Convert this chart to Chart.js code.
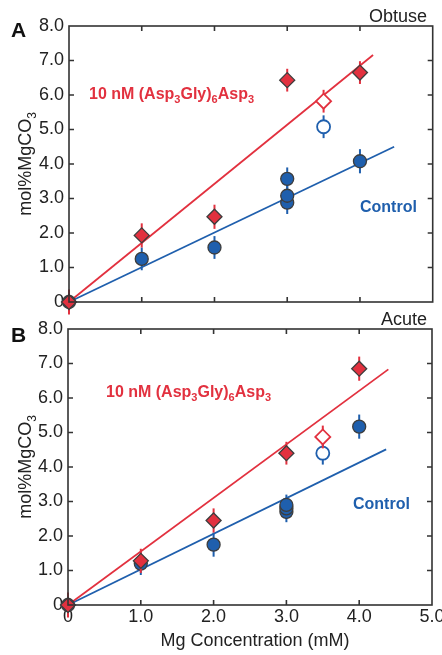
<!DOCTYPE html>
<html>
<head>
<meta charset="utf-8">
<script src="https://cdn.jsdelivr.net/npm/chart.js@4.4.0/dist/chart.umd.min.js"></script>
<style>
  html, body { margin: 0; padding: 0; background: #fff; }
  #wrap { position: relative; width: 442px; height: 655px; }
  canvas { position: absolute; left: 0; }
  #chartA { top: 0; }
  #chartB { top: 310px; }
</style>
</head>
<body>
<div id="wrap">
  <canvas id="chartA" width="442" height="320"></canvas>
  <canvas id="chartB" width="442" height="345"></canvas>
</div>
<script>
// --- datos ---
const xTicks = [0, 1, 2, 3, 4, 5];
const yTicks = [0, 1, 2, 3, 4, 5, 6, 7, 8];

// panel A (obtuse)
const aPepX = [0, 1, 2, 3, 4];
const aPepY = [0, 1.93, 2.47, 6.43, 6.65];
const aPepErr = [0.36, 0.35, 0.35, 0.33, 0.33];
const aPepOpenX = [3.5];
const aPepOpenY = [5.82];
const aPepOpenErr = [0.33];
const aCtlX = [0, 1, 2, 3, 3, 3, 4];
const aCtlY = [0, 1.25, 1.58, 2.88, 3.08, 3.57, 4.08];
const aCtlErr = [0.3, 0.33, 0.33, 0.33, 0.33, 0.33, 0.35];
const aCtlOpenX = [3.5];
const aCtlOpenY = [5.08];
const aCtlOpenErr = [0.33];
const aPepFitX = [0, 4.18];
const aPepFitY = [0, 7.16];
const aCtlFitX = [0, 4.47];
const aCtlFitY = [0, 4.5];

// panel B (acute)
const bPepX = [0, 1, 2, 3, 4];
const bPepY = [0, 1.28, 2.45, 4.4, 6.85];
const bPepErr = [0.36, 0.35, 0.35, 0.33, 0.35];
const bPepOpenX = [3.5];
const bPepOpenY = [4.87];
const bPepOpenErr = [0.33];
const bCtlX = [0, 1, 2, 3, 3, 3, 4];
const bCtlY = [0, 1.2, 1.75, 2.7, 2.8, 2.9, 5.17];
const bCtlErr = [0.3, 0.33, 0.35, 0.3, 0.3, 0.3, 0.35];
const bCtlOpenX = [3.5];
const bCtlOpenY = [4.4];
const bCtlOpenErr = [0.33];
const bPepFitX = [0, 4.4];
const bPepFitY = [0, 6.83];
const bCtlFitX = [0, 4.37];
const bCtlFitY = [0, 4.51];

const RED = "#e2313f";
const BLUE = "#1f5fad";
const EDGE = "#3d3d3d";
const AXIS = "#333333";
const FONT = '"Liberation Sans", Arial, Helvetica, sans-serif';

const pepLabel = [["10 nM (Asp"], ["3", true], ["Gly)"], ["6", true], ["Asp"], ["3", true]];
const yTitle = [["mol%MgCO"], ["3", true]];

Chart.defaults.font.family = FONT;
Chart.defaults.color = "#222";

const pts = (xs, ys) => xs.map((x, i) => ({ x, y: ys[i] }));

function richWidth(ctx, parts, size, bold) {
  let w = 0;
  parts.forEach(([t, sub]) => {
    ctx.font = (bold ? "bold " : "") + (sub ? Math.round(size * 0.68) : size) + "px " + FONT;
    w += ctx.measureText(t).width;
  });
  return w;
}

function richText(ctx, parts, x, y, size, bold, color) {
  ctx.save();
  ctx.fillStyle = color;
  ctx.textAlign = "left";
  ctx.textBaseline = "alphabetic";
  let cx = x;
  parts.forEach(([t, sub]) => {
    ctx.font = (bold ? "bold " : "") + (sub ? Math.round(size * 0.68) : size) + "px " + FONT;
    ctx.fillText(t, cx, sub ? y + size * 0.28 : y);
    cx += ctx.measureText(t).width;
  });
  ctx.restore();
}

// barras de error, justo antes de cada dataset
const errorBars = {
  id: "errorBars",
  beforeDatasetDraw(chart, args) {
    const ds = chart.data.datasets[args.index];
    if (!ds.errors) return;
    const { ctx, scales } = chart;
    ctx.save();
    ctx.strokeStyle = ds.errColor;
    ctx.lineWidth = 2;
    ds.data.forEach((p, i) => {
      const px = scales.x.getPixelForValue(p.x);
      ctx.beginPath();
      ctx.moveTo(px, scales.y.getPixelForValue(p.y - ds.errors[i]));
      ctx.lineTo(px, scales.y.getPixelForValue(p.y + ds.errors[i]));
      ctx.stroke();
    });
    ctx.restore();
  },
};

// marco, ticks hacia dentro y textos
const frame = {
  id: "frame",
  afterDraw(chart, args, o) {
    const { ctx, chartArea: a, scales } = chart;
    ctx.save();
    ctx.strokeStyle = AXIS;
    ctx.lineWidth = 1.6;
    ctx.strokeRect(a.left, a.top, a.right - a.left, a.bottom - a.top);
    const tl = 5;
    ctx.beginPath();
    xTicks.slice(1, -1).forEach((v) => {
      const px = scales.x.getPixelForValue(v);
      ctx.moveTo(px, a.bottom); ctx.lineTo(px, a.bottom - tl);
      ctx.moveTo(px, a.top); ctx.lineTo(px, a.top + tl);
    });
    yTicks.slice(1, -1).forEach((v) => {
      const py = scales.y.getPixelForValue(v);
      ctx.moveTo(a.left, py); ctx.lineTo(a.left + tl, py);
      ctx.moveTo(a.right, py); ctx.lineTo(a.right - tl, py);
    });
    ctx.stroke();

    // letra del panel y titulo
    ctx.fillStyle = "#111";
    ctx.font = "bold 21px " + FONT;
    ctx.textAlign = "left";
    ctx.fillText(o.letter, 11, o.letterY);
    ctx.font = "18px " + FONT;
    ctx.textAlign = "right";
    ctx.fillStyle = "#222";
    ctx.fillText(o.title, 427, o.titleY);

    // titulo eje y (rotado)
    const w = richWidth(ctx, yTitle, 18, false);
    ctx.save();
    ctx.translate(31, (a.top + a.bottom) / 2);
    ctx.rotate(-Math.PI / 2);
    richText(ctx, yTitle, -w / 2, 0, 18, false, "#222");
    ctx.restore();

    richText(ctx, pepLabel, o.pepX, o.pepY, 16, true, RED);
    ctx.font = "bold 16px " + FONT;
    ctx.textAlign = "left";
    ctx.fillStyle = BLUE;
    ctx.fillText("Control", o.ctlX, o.ctlY);

    if (o.xTitle) {
      ctx.font = "18px " + FONT;
      ctx.textAlign = "center";
      ctx.fillStyle = "#222";
      ctx.fillText("Mg Concentration (mM)", 255, o.xTitleY);
    }
    ctx.restore();
  },
};

function makeChart(id, d, o) {
  const ctx = document.getElementById(id).getContext("2d");
  return new Chart(ctx, {
    type: "scatter",
    data: {
      datasets: [
        { type: "line", data: pts(d.pepFitX, d.pepFitY), borderColor: RED, borderWidth: 1.8, pointRadius: 0, order: 5 },
        { type: "line", data: pts(d.ctlFitX, d.ctlFitY), borderColor: BLUE, borderWidth: 1.8, pointRadius: 0, order: 6 },
        { data: pts(d.ctlX, d.ctlY), errors: d.ctlErr, errColor: BLUE, pointStyle: "circle", pointRadius: 6.5,
          backgroundColor: BLUE, borderColor: EDGE, borderWidth: 1.3, order: 4 },
        { data: pts(d.ctlOpenX, d.ctlOpenY), errors: d.ctlOpenErr, errColor: BLUE, pointStyle: "circle", pointRadius: 6.5,
          backgroundColor: "#fff", borderColor: BLUE, borderWidth: 1.8, order: 3 },
        { data: pts(d.pepX, d.pepY), errors: d.pepErr, errColor: RED, pointStyle: "rectRot", pointRadius: 7.5,
          backgroundColor: RED, borderColor: EDGE, borderWidth: 1.3, order: 2 },
        { data: pts(d.pepOpenX, d.pepOpenY), errors: d.pepOpenErr, errColor: RED, pointStyle: "rectRot", pointRadius: 7.5,
          backgroundColor: "#fff", borderColor: RED, borderWidth: 1.8, order: 1 },
      ].map((ds) => Object.assign({ clip: false, showLine: ds.type === "line" }, ds)),
    },
    options: {
      responsive: false,
      animation: false,
      events: [],
      layout: { padding: { left: 0, top: o.top, right: o.right, bottom: 0 } },
      scales: {
        x: {
          type: "linear", min: 0, max: 5,
          grid: { display: false, drawTicks: false },
          border: { display: false },
          afterBuildTicks: (s) => { s.ticks = xTicks.map((v) => ({ value: v })); },
          ticks: { display: o.xLabels, padding: 1, font: { size: 18 }, color: "#222",
            callback: (v) => (v === 0 ? "0" : v.toFixed(1)) },
          afterFit: (s) => { s.height = o.xHeight; s.paddingLeft = 0; s.paddingRight = 0; },
        },
        y: {
          type: "linear", min: 0, max: 8,
          grid: { display: false, drawTicks: false },
          border: { display: false },
          afterBuildTicks: (s) => { s.ticks = yTicks.map((v) => ({ value: v })); },
          ticks: { padding: 5, font: { size: 18 }, color: "#222",
            callback: (v) => (v === 0 ? "0" : v.toFixed(1)) },
          afterFit: (s) => { s.width = o.left; s.paddingTop = 0; s.paddingBottom = 0; },
        },
      },
      plugins: { legend: { display: false }, tooltip: { enabled: false }, frame: o },
    },
    plugins: [errorBars, frame],
  });
}

makeChart("chartA", {
  pepX: aPepX, pepY: aPepY, pepErr: aPepErr, pepOpenX: aPepOpenX, pepOpenY: aPepOpenY, pepOpenErr: aPepOpenErr,
  ctlX: aCtlX, ctlY: aCtlY, ctlErr: aCtlErr, ctlOpenX: aCtlOpenX, ctlOpenY: aCtlOpenY, ctlOpenErr: aCtlOpenErr,
  pepFitX: aPepFitX, pepFitY: aPepFitY, ctlFitX: aCtlFitX, ctlFitY: aCtlFitY,
}, { top: 26, right: 9, left: 69, xHeight: 18, xLabels: false, letter: "A", letterY: 37, title: "Obtuse", titleY: 22,
     pepX: 89, pepY: 99, ctlX: 360, ctlY: 212, xTitle: false });

makeChart("chartB", {
  pepX: bPepX, pepY: bPepY, pepErr: bPepErr, pepOpenX: bPepOpenX, pepOpenY: bPepOpenY, pepOpenErr: bPepOpenErr,
  ctlX: bCtlX, ctlY: bCtlY, ctlErr: bCtlErr, ctlOpenX: bCtlOpenX, ctlOpenY: bCtlOpenY, ctlOpenErr: bCtlOpenErr,
  pepFitX: bPepFitX, pepFitY: bPepFitY, ctlFitX: bCtlFitX, ctlFitY: bCtlFitY,
}, { top: 19, right: 10, left: 68, xHeight: 50, xLabels: true, letter: "B", letterY: 32, title: "Acute", titleY: 15,
     pepX: 106, pepY: 87, ctlX: 353, ctlY: 199, xTitle: true, xTitleY: 336 });
</script>
</body>
</html>
